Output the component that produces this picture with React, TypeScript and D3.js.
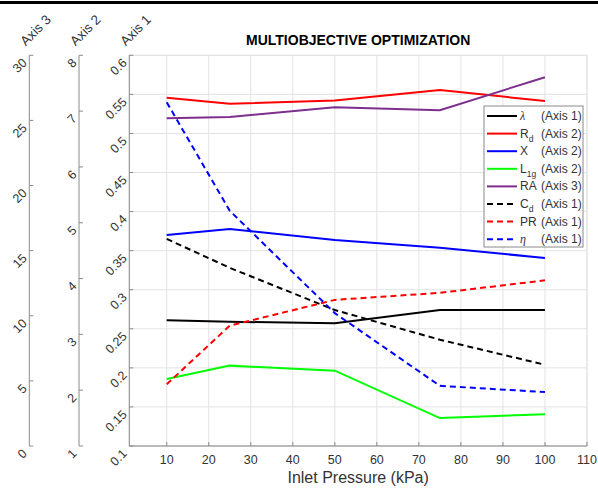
import React from "react"
import * as d3 from "d3"

const WIDTH = 598
const HEIGHT = 488
const PLOT = { left: 129.3, right: 587, top: 55.3, bottom: 446 }
const AXIS2_X = 79
const AXIS3_X = 29.3
const FONT = "'Liberation Sans', Arial, Helvetica, sans-serif"

// data
const pressures = [10, 25, 50, 75, 100]
const lambdaVals = [0.261, 0.259, 0.257, 0.274, 0.274]
const rdVals = [7.24, 7.13, 7.19, 7.38, 7.18]
const xVals = [4.78, 4.89, 4.69, 4.55, 4.37]
const l1gVals = [2.2, 2.44, 2.35, 1.5, 1.57]
const raVals = [25.17, 25.27, 26.01, 25.78, 28.32]
const cdVals = [0.365, 0.328, 0.274, 0.236, 0.204]
const prVals = [0.179, 0.254, 0.287, 0.296, 0.312]
const etaVals = [0.54, 0.401, 0.27, 0.177, 0.169]

const xTicks = [10, 20, 30, 40, 50, 60, 70, 80, 90, 100, 110]
const axis1Ticks = [0.1, 0.15, 0.2, 0.25, 0.3, 0.35, 0.4, 0.45, 0.5, 0.55, 0.6]
const axis2Ticks = [1, 2, 3, 4, 5, 6, 7, 8]
const axis3Ticks = [0, 5, 10, 15, 20, 25, 30]

type Series = {
    name: string
    sub?: string
    italic?: boolean
    axis: 1 | 2 | 3
    values: number[]
    color: string
    dashed: boolean
}

const series: Series[] = [
    { name: "λ", italic: true, axis: 1, values: lambdaVals, color: "#000000", dashed: false },
    { name: "R", sub: "d", axis: 2, values: rdVals, color: "#ff0000", dashed: false },
    { name: "X", axis: 2, values: xVals, color: "#0000ff", dashed: false },
    { name: "L", sub: "1g", axis: 2, values: l1gVals, color: "#00ff00", dashed: false },
    { name: "RA", axis: 3, values: raVals, color: "#7e2f8e", dashed: false },
    { name: "C", sub: "d", axis: 1, values: cdVals, color: "#000000", dashed: true },
    { name: "PR", axis: 1, values: prVals, color: "#ff0000", dashed: true },
    { name: "η", italic: true, axis: 1, values: etaVals, color: "#0000ff", dashed: true },
]

const App = () => {
    const xScale = d3.scaleLinear().domain([1.1, 110]).range([PLOT.left, PLOT.right])
    const y1 = d3.scaleLinear().domain([0.1, 0.6]).range([PLOT.bottom, PLOT.top])
    const y2 = d3.scaleLinear().domain([1, 8]).range([PLOT.bottom, PLOT.top])
    const y3 = d3.scaleLinear().domain([0, 30]).range([PLOT.bottom, PLOT.top])
    const yFor = (a: number) => (a === 1 ? y1 : a === 2 ? y2 : y3)

    const yAxes = [
        { x: AXIS3_X, scale: y3, ticks: axis3Ticks, title: "Axis 3" },
        { x: AXIS2_X, scale: y2, ticks: axis2Ticks, title: "Axis 2" },
        { x: PLOT.left, scale: y1, ticks: axis1Ticks, title: "Axis 1" },
    ]

    const legendX = 484
    const legendY = 106
    const rowH = 17.6

    return (
        <svg
            width={WIDTH}
            height={HEIGHT}
            style={{ position: "fixed", left: 0, top: 0, background: "#fff" }}
            fontFamily={FONT}
        >
            <rect x={0} y={0} width={WIDTH} height={HEIGHT} fill="#fff" />
            <rect x={0} y={1} width={WIDTH} height={3} fill="#000" />

            {/* grid */}
            {xTicks.map((t) => (
                <line key={"gx" + t} x1={xScale(t)} x2={xScale(t)} y1={PLOT.top} y2={PLOT.bottom} stroke="#e3e3e3" />
            ))}
            {axis1Ticks.map((t) => (
                <line key={"gy" + t} x1={PLOT.left} x2={PLOT.right} y1={y1(t)} y2={y1(t)} stroke="#e3e3e3" />
            ))}
            <rect x={PLOT.left} y={PLOT.top} width={PLOT.right - PLOT.left} height={PLOT.bottom - PLOT.top} fill="none" stroke="#e3e3e3" />

            {/* x axis */}
            <line x1={PLOT.left} x2={PLOT.right} y1={PLOT.bottom} y2={PLOT.bottom} stroke="#8a8a8a" />
            {xTicks.map((t) => (
                <g key={"xt" + t}>
                    <line x1={xScale(t)} x2={xScale(t)} y1={PLOT.bottom} y2={PLOT.bottom - 4} stroke="#8a8a8a" />
                    <text x={xScale(t)} y={463.5} textAnchor="middle" fontSize={12.5} fill="#333">
                        {t}
                    </text>
                </g>
            ))}
            <text x={(PLOT.left + PLOT.right) / 2} y={483} textAnchor="middle" fontSize={16} fill="#333">
                Inlet Pressure (kPa)
            </text>

            {/* y axes */}
            {yAxes.map((ax) => (
                <g key={ax.title}>
                    <line x1={ax.x} x2={ax.x} y1={PLOT.top} y2={PLOT.bottom} stroke="#8a8a8a" />
                    {ax.ticks.map((t) => (
                        <g key={t}>
                            <line x1={ax.x} x2={ax.x + 4} y1={ax.scale(t)} y2={ax.scale(t)} stroke="#8a8a8a" />
                            <text
                                transform={`translate(${ax.x - 4},${ax.scale(t) + 6}) rotate(-45)`}
                                textAnchor="end"
                                dominantBaseline="middle"
                                fontSize={12.5}
                                fill="#333"
                            >
                                {t}
                            </text>
                        </g>
                    ))}
                    <text
                        transform={`translate(${ax.x + 7},31) rotate(-45)`}
                        textAnchor="middle"
                        dominantBaseline="middle"
                        fontSize={13.5}
                        fill="#333"
                    >
                        {ax.title}
                    </text>
                </g>
            ))}

            {/* series */}
            {series.map((s, i) => {
                const ys = yFor(s.axis)
                const line = d3
                    .line<number>()
                    .x((_, j) => xScale(pressures[j]))
                    .y((v) => ys(v))
                return (
                    <path
                        key={i}
                        d={line(s.values) || ""}
                        fill="none"
                        stroke={s.color}
                        strokeWidth={2}
                        strokeDasharray={s.dashed ? "6,4" : undefined}
                    />
                )
            })}

            <text x={(PLOT.left + PLOT.right) / 2} y={45} textAnchor="middle" fontSize={14} fontWeight="bold" fill="#000">
                MULTIOBJECTIVE OPTIMIZATION
            </text>

            {/* legend */}
            <rect x={legendX} y={legendY} width={99} height={141} fill="#fff" stroke="#8a8a8a" />
            {series.map((s, i) => {
                const cy = legendY + 10 + i * rowH
                return (
                    <g key={"lg" + i}>
                        <line
                            x1={legendX + 3}
                            x2={legendX + 33}
                            y1={cy}
                            y2={cy}
                            stroke={s.color}
                            strokeWidth={2}
                            strokeDasharray={s.dashed ? "6,4" : undefined}
                        />
                        <text x={legendX + 36} y={cy + 4} fontSize={12} fill="#333">
                            <tspan
                                fontFamily={s.italic ? "'Liberation Serif', 'DejaVu Serif', serif" : undefined}
                                fontStyle={s.italic ? "italic" : undefined}
                            >
                                {s.name}
                            </tspan>
                            {s.sub && (
                                <tspan fontSize={8.5} dy={4}>
                                    {s.sub}
                                </tspan>
                            )}
                        </text>
                        <text x={legendX + 57} y={cy + 4} fontSize={12} fill="#333">
                            (Axis {s.axis})
                        </text>
                    </g>
                )
            })}
        </svg>
    )
}

export default App
